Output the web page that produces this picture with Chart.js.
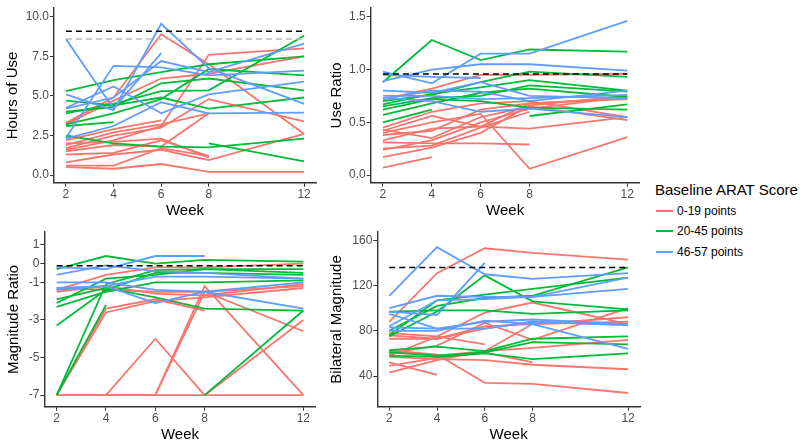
<!DOCTYPE html>
<html>
<head>
<meta charset="utf-8">
<script src="https://cdn.jsdelivr.net/npm/chart.js@4.4.1/dist/chart.umd.min.js"></script>
<style>
  body { margin: 0; background: #fff; width: 800px; height: 447px; overflow: hidden; position: relative;
         font-family: "Liberation Sans", Arial, sans-serif; }
  canvas { position: absolute; }
  .ltitle { position: absolute; left: 655px; top: 181px; font-size: 15px; color: #000; white-space: nowrap; }
  .litem { position: absolute; left: 656px; font-size: 12px; color: #000; white-space: nowrap; }
  .litem span { display: inline-block; width: 17px; height: 2px; margin-right: 4px; vertical-align: middle; position: relative; top: -1px; }
</style>
</head>
<body>
<canvas id="hours" width="320" height="226" style="left:0;top:0"></canvas>
<canvas id="ratio" width="324" height="226" style="left:320px;top:0"></canvas>
<canvas id="magRatio" width="320" height="223" style="left:0;top:224px"></canvas>
<canvas id="bilat" width="324" height="223" style="left:320px;top:224px"></canvas>
<div id="legend"></div>
<script>
// weeks on the x axis
const weeks = [2, 4, 6, 8, 12];
const groupLabels = ['0-19 points', '20-45 points', '46-57 points'];
const groupColors = ['#F8766D', '#00BA38', '#619CFF'];

// Hours of Use (one row per subject, values at weeks 2,4,6,8,12)
const hoursLow = [
  [3.3, 4.9, 8.9, 7.0, 2.6], [1.6, 2.2, 3.1, 7.6, 8.0], [3.2, 4.7, 6.1, 6.4, 7.5],
  [2.2, 2.9, 3.45, null, null], [1.9, 2.7, 3.2, 3.9, null], [1.7, 2.5, 3.0, 4.8, 3.4],
  [1.3, 1.4, 2.2, 1.2, null], [2.0, 2.1, 2.3, 1.1, null], [0.8, 1.3, 1.6, 0.95, 2.6],
  [0.6, 0.6, 1.7, 1.2, null], [0.5, 0.4, 0.7, 0.2, 0.2], [1.5, 1.9, 1.8, 3.9, null]
];
const hoursMid = [
  [5.3, 6.0, 6.5, 7.0, 7.5], [4.7, 4.4, 4.9, 4.2, 4.9], [3.9, 4.5, 5.3, 5.35, 8.8],
  [4.0, 4.3, 5.8, 6.1, 5.35], [3.2, 3.9, 4.8, 6.7, 6.3], [3.1, 3.35, null, null, null],
  [2.5, 2.0, 1.8, 1.75, 2.3], [null, null, null, 2.0, 0.87]
];
const hoursHigh = [
  [8.6, 4.2, 7.7, null, null], [5.1, 4.1, 9.56, 6.75, 4.5], [4.25, 5.6, 3.9, 5.1, 5.9],
  [2.35, 6.9, 6.8, 6.3, 6.6], [2.3, 3.1, 4.6, 3.9, 3.95], [4.2, 4.9, 7.2, 6.5, 8.3]
];
const hoursRef = 9.08, hoursRef2 = 8.6;
const hoursTicks = [0, 2.5, 5, 7.5, 10];

// Use Ratio
const ratioLow = [
  [0.72, 0.82, 0.95, 0.95, 0.96], [0.45, 0.6, 0.68, 0.7, 0.55], [0.42, 0.56, 0.46, 0.44, 0.55],
  [0.4, 0.5, 0.58, 0.06, 0.36], [0.33, 0.44, 0.46, 0.68, 0.72], [0.31, 0.3, 0.3, 0.29, null],
  [0.25, 0.28, 0.45, 0.6, null], [0.17, 0.26, 0.4, 0.66, 0.75], [0.07, 0.17, null, null, null],
  [0.43, 0.35, 0.55, 0.65, 0.52], [0.24, 0.33, 0.5, 0.63, 0.74], [0.38, 0.42, 0.62, 0.68, 0.73]
];
const ratioMid = [
  [0.88, 1.28, 1.09, 1.19, 1.17], [0.7, 0.76, 0.88, 0.98, 0.93], [0.67, 0.77, 0.83, 0.9, 0.8],
  [0.65, 0.73, 0.75, 0.85, 0.79], [0.62, 0.72, 0.7, 0.64, 0.62], [0.57, 0.68, 0.78, 0.82, 0.74],
  [0.5, 0.62, null, null, null], [null, null, null, 0.56, 0.67]
];
const ratioHigh = [
  [0.89, 1.0, 1.05, 1.05, 0.99], [0.98, 0.87, 1.15, 1.15, 1.46], [0.95, 0.93, 0.92, null, null],
  [0.8, 0.78, 0.88, 0.75, 0.73], [0.75, 0.75, 0.72, 0.73, 0.76], [0.73, 0.7, 0.6, 0.63, 0.55],
  [0.72, 0.8, 0.79, 0.7, 0.8]
];
const ratioRef = 0.957;
const ratioTicks = [0, 0.5, 1, 1.5];

// Magnitude Ratio
const magLow = [
  [-7, -7, -7, -7, -7], [-7, -2.4, -1.9, -2.5, null], [-7, -2.6, -2.0, -1.8, -1.3],
  [null, -7, -4.0, -7, -3.0], [-7, -7, -7, -1.2, -7], [null, null, -7, -1.5, -3.6],
  [-1.4, -0.6, -0.2, -0.2, 0.0], [-1.5, -1.2, -1.6, -1.7, -1.1], [-1.3, -1.4, -1.5, -1.5, -1.2]
];
const magMid = [
  [-0.3, 0.4, 0.0, 0.2, 0.1], [-7, -1.1, -0.35, -0.3, -0.5], [-7, -2.2, null, null, null],
  [-1.9, -1.3, -1.8, -2.4, -2.5], [-2.1, -0.8, -0.6, -0.3, -0.3], [-2.3, -1.5, -1.0, -1.0, -0.9],
  [-3.3, -1.4, -0.5, -0.5, -0.6], [null, null, null, -7, -2.5]
];
const magHigh = [
  [-0.2, -0.3, 0.4, 0.4, null], [-0.6, -0.1, -0.4, -0.5, -0.8], [-1.0, -1.0, -1.4, -1.5, -2.4],
  [-1.3, -1.2, -2.1, -1.5, -1.0], [-1.4, -1.2, -0.7, -0.7, -0.8]
];
const magRef = -0.12;
const magTicks = [1, 0, -1, -3, -5, -7];

// Bilateral Magnitude
const bilatLow = [
  [88, 131, 153, 149, 143], [58, 75, 96, 105, 86], [60, 67, 87, 72, 100],
  [76, 73, 84, 86, 92], [62, 58, 62, 86, 88], [78, 75, 68, null, null],
  [57, 55, 54, 50, 46], [63, 59, 34, 33, 25], [49, 56, 61, 52, null],
  [43, 54, 62, 65, 72], [52, 41, null, null, null], [73, 73, 82, 88, 85]
];
const bilatMid = [
  [75, 97, 129, 106, 99], [76, 107, 112, 117, 127], [80, 102, 109, 111, 136],
  [97, 98, 98, 95, 98], [63, 66, 62, 73, 75], [61, 58, 61, 70, 68], [58, 57, 60, 55, 60]
];
const bilatHigh = [
  [111, 154, 130, 126, 131], [100, 111, 110, 110, 117], [97, 94, 140, null, null],
  [84, 107, 108, 110, 127], [83, 82, 82, 88, 85], [95, 82, 88, 90, 86], [80, 80, 89, 86, 64]
];
const bilatRef = 136;
const bilatTicks = [40, 80, 120, 160];

const FONT = '"Liberation Sans", Arial, sans-serif';

function toPoints(vals) {
  return weeks.map((w, i) => ({ x: w, y: vals[i] }));
}

function refLine(v, color) {
  return {
    data: [{ x: weeks[0], y: v }, { x: weeks[weeks.length - 1], y: v }],
    borderColor: color, borderWidth: 1.5, borderDash: [6, 4], pointRadius: 0
  };
}

function makePanel(id, groups, refs, cfg) {
  const datasets = refs.map(r => refLine(r[0], r[1]));
  // blue on top, red at bottom
  [2, 1, 0].forEach(g => {
    groups[g].forEach(vals => {
      datasets.push({
        data: toPoints(vals),
        borderColor: groupColors[g], borderWidth: 1.8, pointRadius: 0, tension: 0, spanGaps: false
      });
    });
  });

  new Chart(document.getElementById(id), {
    type: 'line',
    data: { datasets: datasets },
    options: {
      responsive: false,
      animation: false,
      layout: { padding: cfg.padding },
      plugins: { legend: { display: false }, tooltip: { enabled: false } },
      scales: {
        x: {
          type: 'linear', min: 1.5, max: 12.5,
          afterBuildTicks: s => { s.ticks = weeks.map(v => ({ value: v })); },
          afterFit: s => { s.height = cfg.xHeight; },
          ticks: { color: '#4D4D4D', font: { family: FONT, size: 12 }, padding: 1 },
          grid: { drawOnChartArea: false, drawTicks: true, tickLength: 4, color: '#333', lineWidth: 1 },
          border: { display: true, color: '#333', width: 1.4 },
          title: { display: true, text: 'Week', color: '#000', font: { family: FONT, size: 15 },
                   padding: { top: 0, bottom: cfg.weekPad } }
        },
        y: {
          min: cfg.min, max: cfg.max,
          afterBuildTicks: s => { s.ticks = cfg.ticks.map(v => ({ value: v })); },
          afterFit: s => { s.width = cfg.yWidth; },
          ticks: { color: '#4D4D4D', font: { family: FONT, size: 12 }, padding: 1,
                   callback: cfg.fmt },
          grid: { drawOnChartArea: false, drawTicks: true, tickLength: 4, color: '#333', lineWidth: 1 },
          border: { display: true, color: '#333', width: 1.4 },
          title: { display: true, text: cfg.title, color: '#000', font: { family: FONT, size: 15 },
                   padding: { top: cfg.titlePad, bottom: 0 } }
        }
      }
    }
  });
}

makePanel('hours', [hoursLow, hoursMid, hoursHigh], [[hoursRef, '#000'], [hoursRef2, '#BBBBBB']], {
  padding: { top: 6, right: 4, left: 0, bottom: 0 }, xHeight: 43.3, yWidth: 54, weekPad: 6,
  min: -0.48, max: 10.54, ticks: hoursTicks, fmt: v => v.toFixed(1), title: 'Hours of Use', titlePad: 4.3
});
makePanel('ratio', [ratioLow, ratioMid, ratioHigh], [[ratioRef, '#000']], {
  padding: { top: 6, right: 4.5, left: 0, bottom: 0 }, xHeight: 43.3, yWidth: 50.7, weekPad: 6,
  min: -0.072, max: 1.581, ticks: ratioTicks, fmt: v => v.toFixed(1), title: 'Use Ratio', titlePad: 7.7
});
makePanel('magRatio', [magLow, magMid, magHigh], [[magRef, '#000']], {
  padding: { top: 6, right: 4.3, left: 0, bottom: 0 }, xHeight: 40.3, yWidth: 44.3, weekPad: 3,
  min: -7.614, max: 1.667, ticks: magTicks, fmt: v => String(v), title: 'Magnitude Ratio', titlePad: 5
});
makePanel('bilat', [bilatLow, bilatMid, bilatHigh], [[bilatRef, '#000']], {
  padding: { top: 6, right: 4, left: 0, bottom: 0 }, xHeight: 40.3, yWidth: 57.3, weekPad: 3,
  min: 12.9, max: 167.2, ticks: bilatTicks, fmt: v => String(v), title: 'Bilateral Magnitude', titlePad: 8
});

// legend
const legendEl = document.getElementById('legend');
legendEl.innerHTML = '<div class="ltitle">Baseline ARAT Score</div>';
const itemTops = [204, 224, 245];
groupLabels.forEach((lab, i) => {
  legendEl.innerHTML += `<div class="litem" style="top:${itemTops[i]}px"><span style="background:${groupColors[i]}"></span>${lab}</div>`;
});
</script>
</body>
</html>
